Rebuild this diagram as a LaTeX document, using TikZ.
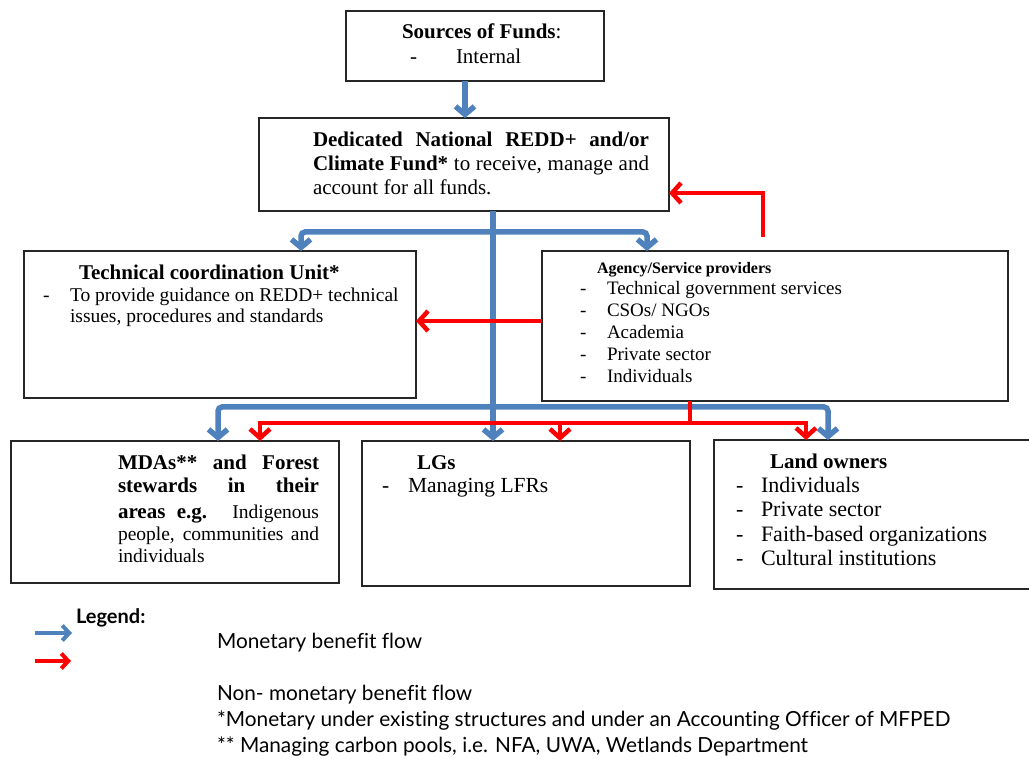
\documentclass[tikz,border=0pt]{standalone}
\usepackage{fontspec}
\setmainfont{Liberation Serif}
\newfontfamily\legfont[Ligatures={NoCommon}]{Lato}
\usetikzlibrary{arrows.meta}
\definecolor{mblue}{RGB}{79,129,189}
\definecolor{mred}{RGB}{255,0,0}
\newcommand{\fs}[2]{\fontsize{#1}{#2}\selectfont}
\begin{document}
\begin{tikzpicture}[x=1pt,y=-1pt,
  box/.style={draw=black!85, line width=1.3pt, inner sep=0pt, outer sep=0pt, anchor=north west},
  t/.style={anchor=base west, inner sep=0pt, outer sep=0pt},
  bline/.style={draw=mblue, line width=5.5pt, rounded corners=4pt},
  bflow/.style={bline, -{Straight Barb[length=8pt,width=19pt]}},
  rline/.style={draw=mred, line width=4.5pt},
  rflow/.style={rline, -{Straight Barb[length=9pt,width=20pt]}},
  lflowb/.style={draw=mblue, line width=4pt, -{Straight Barb[length=7pt,width=15pt]}},
  lflowr/.style={draw=mred, line width=4pt, -{Straight Barb[length=7pt,width=15pt]}},
  body/.style={font=\fs{21}{24}},
  bodyb/.style={font=\fs{21}{24}\bfseries},
  small/.style={font=\fs{19.5}{22}},
  leg/.style={font=\legfont\fs{20.8}{24}},
]
\useasboundingbox (0,0) rectangle (1029,759);

% boxes
\node[box, minimum width=258pt, minimum height=70pt] (src) at (346,11) {};
\node[box, minimum width=410pt, minimum height=93pt] (ded) at (259,118) {};
\node[box, minimum width=392pt, minimum height=147pt] (tech) at (24,251) {};
\node[box, minimum width=466pt, minimum height=150pt] (agen) at (542,251) {};
\node[box, minimum width=328pt, minimum height=142pt] (mda) at (11,441) {};
\node[box, minimum width=328pt, minimum height=145pt] (lgs) at (362,441) {};
\node[box, minimum width=320pt, minimum height=149pt] (land) at (714,440) {};

% blue monetary flows
\draw[bflow] (src.south -| 465,0) -- (ded.north -| 465,0);
\draw[bflow] (ded.south -| 493,0) -- (lgs.north -| 493,0);
\draw[bflow] (493,232) -| (tech.north -| 301,0);
\draw[bflow] (493,232) -| (agen.north -| 647,0);
\draw[bflow] (493,407) -| (mda.north -| 218,0);
\draw[bflow] (493,407) -| (land.north -| 828,0);

% red non-monetary flows
\draw[rline] (agen.south -| 690,0) -- (690,423);
\draw[rflow] (690,423) -| (mda.north -| 260,0);
\draw[rflow] (690,423) -| (land.north -| 806,0);
\draw[rflow] (560,423) -- (lgs.north -| 560,0);
\draw[rflow] (agen.west |- 0,321) -- (tech.east |- 0,321);
\coordinate (rf) at (763,237);
\draw[rflow] (rf) |- (ded.east |- 0,193);

% Sources
\node[t, bodyb] (srcT) at (402,39) {Sources of Funds\mdseries:};
\node[t, body] (srcD) at (410,64) {-};
\node[t, body] (srcI) at (456,64) {Internal};

% Dedicated
\node[t, body] (d1) at (313,147) {\makebox[336pt][s]{\bfseries Dedicated National REDD+ and/or}};
\node[t, body] (d2) at (313,171) {\makebox[336pt][s]{\textbf{Climate Fund*} to receive, manage and}};
\node[t, body] (d3) at (313,195) {account for all funds.};

% Technical coordination unit
\node[t, bodyb] (tT) at (79,280) {Technical coordination Unit*};
\node[t, small] (tD) at (43,302) {-};
\node[t, small] (t1) at (70,302) {To provide guidance on REDD+ technical};
\node[t, small] (t2) at (70,323) {issues, procedures and standards};

% Agency
\node[t, font=\fs{16}{20}\bfseries] (aT) at (597,274) {Agency/Service providers};
\foreach \txt [count=\i] in {Technical government services, CSOs/ NGOs, Academia, Private sector, Individuals}{
  \node[t, font=\fs{19}{22}] (agd\i) at (580,{273+22*\i}) {-};
  \node[t, font=\fs{19}{22}] (ag\i) at (607,{273+22*\i}) {\txt};
}

% MDAs
\node[t, bodyb] (m1) at (118,469) {\makebox[201pt][s]{MDAs** and Forest}};
\node[t, bodyb] (m2) at (118,493) {\makebox[201pt][s]{stewards in their}};
\node[t, body] (m3) at (118,518) {\makebox[201pt][s]{\textbf{areas e.g.} {\fs{19.5}{22}Indigenous}}};
\node[t, small] (m4) at (118,540) {\makebox[201pt][s]{people, communities and}};
\node[t, small] (m5) at (118,562) {individuals};

% LGs
\node[t, bodyb] (lT) at (417,469) {LGs};
\node[t, font=\fs{21.5}{24}] (lD) at (382,493) {-};
\node[t, font=\fs{21.5}{24}] (l1) at (408,493) {Managing LFRs};

% Land owners
\node[t, bodyb] (oT) at (770,468) {Land owners};
\foreach \txt [count=\i] in {Individuals, Private sector, Faith-based organizations, Cultural institutions}{
  \node[t, font=\fs{22}{24}] (od\i) at (736,{467.5+24.5*\i}) {-};
  \node[t, font=\fs{22}{24}] (o\i) at (761,{467.5+24.5*\i}) {\txt};
}

% Legend
\node[t, font=\legfont\fs{20}{24}\bfseries] (legT) at (76,623) {Legend:};
\coordinate (lb1) at (35,633);
\coordinate (lb2) at (72,633);
\coordinate (lr1) at (35,661);
\coordinate (lr2) at (71,661);
\draw[lflowb] (lb1) -- (lb2);
\draw[lflowr] (lr1) -- (lr2);
\node[t, leg] (g1) at (217,648) {Monetary benefit flow};
\node[t, leg] (g2) at (217,700) {Non- monetary benefit flow};
\node[t, leg] (g3) at (217,726) {*Monetary under existing structures and under an Accounting Officer of MFPED};
\node[t, leg] (g4) at (217,752) {** Managing carbon pools, i.e. NFA, UWA, Wetlands Department};
\end{tikzpicture}
\end{document}
